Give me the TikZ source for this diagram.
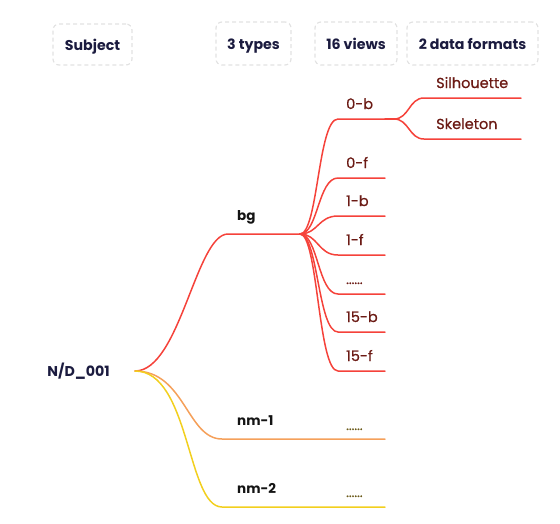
\documentclass[tikz,border=0pt]{standalone}
\usepackage{fontspec}
\setmainfont{Poppins}
\newfontfamily\popmed{Poppins}[FakeBold=1.6]
\newfontfamily\popreg{Poppins}[FakeBold=0.6]
\definecolor{brred}{HTML}{F5423A}
\definecolor{brorange}{HTML}{F5A05A}
\definecolor{bryellow}{HTML}{F2CF1E}
\definecolor{viewtxt}{HTML}{6B1A14}
\definecolor{hdrtxt}{HTML}{1B1B3F}
\definecolor{blktxt}{HTML}{141414}
\definecolor{nmdots}{HTML}{6B5A1A}
\definecolor{hdrgray}{HTML}{E2E2E2}
\tikzset{
  hdr/.style={draw=hdrgray, dash pattern=on 4pt off 3pt, rounded corners=6pt,
    line width=1.2pt, text=hdrtxt, inner sep=0pt, text height=12pt, text depth=1pt,
    font=\bfseries\fontsize{14.2}{17}\selectfont},
  branch/.style={line width=1.5pt, line cap=round},
  viewlbl/.style={anchor=base west, inner sep=0pt, text=viewtxt, font=\popreg\fontsize{14.5}{16}\selectfont},
  typelbl/.style={anchor=base west, inner sep=0pt, text=blktxt, font=\bfseries\fontsize{13.5}{16}\selectfont},
  rootlbl/.style={anchor=base east, inner sep=0pt, text=hdrtxt, font=\bfseries\fontsize{14.2}{17}\selectfont},
  dotlbl/.style={anchor=base west, inner sep=0pt, font=\popreg\fontsize{13}{15}\selectfont}
}
\begin{document}
\begin{tikzpicture}[x=1pt,y=-1pt]
\useasboundingbox (0,0) rectangle (560,523);
% headers
\node[hdr, minimum width=79pt, minimum height=41pt] (hsub) at (92.5,44.5) {Subject};
\node[hdr, minimum width=75pt, minimum height=43pt] (htyp) at (253.5,43.5) {3 types};
\node[hdr, minimum width=82pt, minimum height=43pt] (hview) at (356,43.5) {16 views};
\node[hdr, minimum width=131pt, minimum height=43pt] (hfmt) at (472.5,43.5) {2 data formats};
% root
\node[rootlbl] (root) at (110,376) {N/D\_001};
\coordinate (R) at (135,371);
% bg branch
\coordinate (bgA) at (228,234);
\coordinate (J) at (300,234);
\draw[branch, brred] (R) .. controls +(45,0) and +(-32,0) .. (bgA) -- (J);
\node[typelbl] (bg) at (237,220) {bg};
% views
\foreach \n/\y in {v0/119, v1/178, v2/216, v3/255, v4/294, v5/332, v6/371}{
  \coordinate (\n s) at (338,\y);
  \coordinate (\n e) at (385,\y);
  \draw[branch, brred] (J) .. controls +(18,0) and +(-20,0) .. (\n s) -- (\n e);
}
\node[viewlbl] (l0) at (346,109) {0-b};
\node[viewlbl] (l1) at (346,168) {0-f};
\node[viewlbl] (l2) at (346,206) {1-b};
\node[viewlbl] (l3) at (346,245) {1-f};
\node[dotlbl, text=viewtxt] (l4) at (346,284) {......};
\node[viewlbl] (l5) at (346,322) {15-b};
\node[viewlbl] (l6) at (346,361) {15-f};
% data formats
\coordinate (K) at (394,119);
\coordinate (silS) at (424,98);
\coordinate (silE) at (521,98);
\coordinate (skeS) at (424,139);
\coordinate (skeE) at (521,139);
\draw[branch, brred] (v0e) -- (K);
\draw[branch, brred] (K) .. controls +(15,0) and +(-15,0) .. (silS) -- (silE);
\draw[branch, brred] (K) .. controls +(15,0) and +(-15,0) .. (skeS) -- (skeE);
\node[viewlbl] (sil) at (436,88) {Silhouette};
\node[viewlbl] (ske) at (436,129) {Skeleton};
% nm-1
\coordinate (n1s) at (222,439);
\coordinate (n1e) at (385,439);
\draw[branch, brorange] (R) .. controls +(50,0) and +(-35,0) .. (n1s) -- (n1e);
\node[typelbl] (nm1) at (237,425) {nm-1};
\node[dotlbl, text=nmdots] (d1) at (346,430) {......};
% nm-2
\coordinate (n2s) at (222,507);
\coordinate (n2e) at (385,507);
\draw[branch, bryellow] (R) .. controls +(55,0) and +(-35,0) .. (n2s) -- (n2e);
\node[typelbl] (nm2) at (237,493) {nm-2};
\node[dotlbl, text=nmdots] (d2) at (346,497) {......};
\end{tikzpicture}
\end{document}
